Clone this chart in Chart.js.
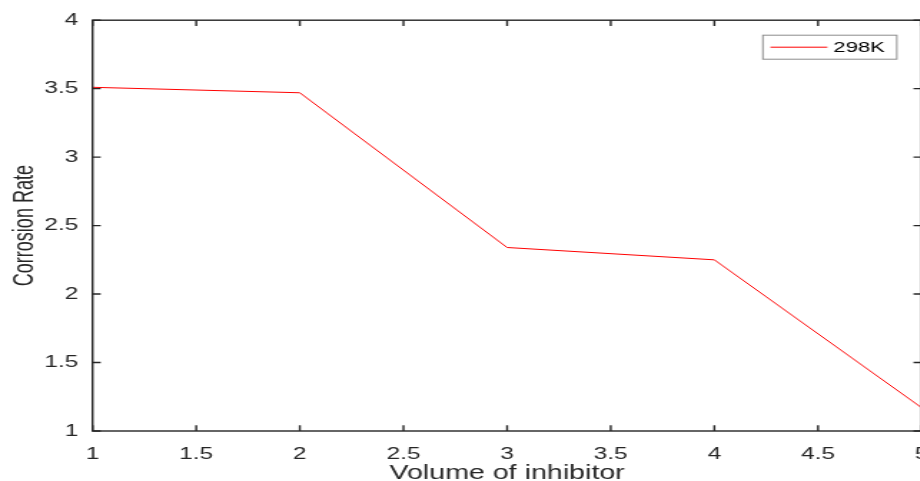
<!DOCTYPE html>
<html>
<head>
<meta charset="utf-8">
<script src="https://cdn.jsdelivr.net/npm/chart.js@4/dist/chart.umd.min.js"></script>
<style>
    html, body { margin: 0; padding: 0; overflow: hidden; background: #fff; }
    /* drawn narrow and widened with css, like the exported figure */
    #corrosionChart { width: 947px; height: 481px; }
</style>
</head>
<body>
<canvas id="corrosionChart" width="662" height="481" style="width:947px;height:481px"></canvas>
<script>
// volumen de inhibidor vs velocidad de corrosion
const volumes = [1, 2, 3, 4, 5];
const corrosion298K = [3.51, 3.47, 2.34, 2.25, 1.17];
const seriesLabel = '298K';
const xTickValues = [1, 1.5, 2, 2.5, 3, 3.5, 4, 4.5, 5];
const yTickValues = [1, 1.5, 2, 2.5, 3, 3.5, 4];
const xTitle = 'Volume of inhibitor';
const yTitle = 'Corrosion Rate';

const axisColor = '#262626';
const tickFont = { family: '"Liberation Sans", Arial, sans-serif', size: 17 };

// marco completo con marcas hacia dentro, leyenda en caja y titulo del eje y
const framePlugin = {
    id: 'frame',
    afterDraw(chart) {
        const ctx = chart.ctx;
        const { left, right, top, bottom } = chart.chartArea;
        const xs = chart.scales.x;
        const ys = chart.scales.y;
        const tickLen = 5.7;

        ctx.save();
        ctx.strokeStyle = axisColor;
        ctx.lineWidth = 1.4;
        ctx.strokeRect(left, top, right - left, bottom - top);

        ctx.beginPath();
        xTickValues.forEach(v => {
            const px = xs.getPixelForValue(v);
            ctx.moveTo(px, bottom);
            ctx.lineTo(px, bottom - tickLen);
            ctx.moveTo(px, top);
            ctx.lineTo(px, top + tickLen);
        });
        yTickValues.forEach(v => {
            const py = ys.getPixelForValue(v);
            ctx.moveTo(left, py);
            ctx.lineTo(left + tickLen, py);
            ctx.moveTo(right, py);
            ctx.lineTo(right - tickLen, py);
        });
        ctx.stroke();

        // leyenda
        const ds = chart.data.datasets[0];
        const boxL = right - 111;
        const boxR = right - 17.4;
        const boxT = top + 15;
        const boxH = 24;
        ctx.fillStyle = '#fff';
        ctx.fillRect(boxL, boxT, boxR - boxL, boxH);
        ctx.strokeStyle = '#8c8c8c';
        ctx.lineWidth = 1;
        ctx.strokeRect(boxL, boxT, boxR - boxL, boxH);

        ctx.strokeStyle = ds.borderColor;
        ctx.lineWidth = 1;
        ctx.beginPath();
        ctx.moveTo(boxL + 5.3, boxT + 12);
        ctx.lineTo(boxL + 45.1, boxT + 12);
        ctx.stroke();

        ctx.fillStyle = '#000';
        ctx.font = '15.4px "Liberation Sans", Arial, sans-serif';
        ctx.textAlign = 'left';
        ctx.textBaseline = 'middle';
        ctx.fillText(ds.label, boxL + 49.3, boxT + 13);

        // titulo del eje y, letra estrecha
        ctx.translate(23.1, (top + bottom) / 2);
        ctx.rotate(-Math.PI / 2);
        ctx.scale(0.86, 1);
        ctx.fillStyle = axisColor;
        ctx.font = '21px "Liberation Sans", Arial, sans-serif';
        ctx.textAlign = 'center';
        ctx.textBaseline = 'alphabetic';
        ctx.fillText(yTitle, 0, 0);
        ctx.restore();
    }
};

const ctx = document.getElementById('corrosionChart').getContext('2d');
new Chart(ctx, {
    type: 'line',
    data: {
        datasets: [{
            label: seriesLabel,
            data: volumes.map((v, i) => ({ x: v, y: corrosion298K[i] })),
            borderColor: '#ff0000',
            borderWidth: 1,
            pointRadius: 0,
            tension: 0,
            fill: false
        }]
    },
    options: {
        responsive: false,
        maintainAspectRatio: false,
        animation: false,
        devicePixelRatio: 1,
        layout: {
            padding: { top: 18.5, left: 0, right: 0, bottom: 0 }
        },
        plugins: {
            legend: { display: false },
            tooltip: { enabled: false }
        },
        scales: {
            x: {
                type: 'linear',
                min: 1,
                max: 5,
                afterBuildTicks: scale => { scale.ticks = xTickValues.map(v => ({ value: v })); },
                afterFit: scale => { scale.height = 50; },
                grid: { display: false, drawTicks: false },
                border: { display: false },
                ticks: {
                    font: tickFont,
                    color: axisColor,
                    padding: 13,
                    maxRotation: 0,
                    autoSkip: false,
                    callback: v => String(v)
                },
                title: {
                    display: true,
                    text: xTitle,
                    color: axisColor,
                    font: { family: '"Liberation Sans", Arial, sans-serif', size: 20 },
                    padding: { top: 0, bottom: -4 }
                }
            },
            y: {
                min: 1,
                max: 4,
                afterBuildTicks: scale => { scale.ticks = yTickValues.map(v => ({ value: v })); },
                afterFit: scale => { scale.width = 64.7; },
                grid: { display: false, drawTicks: false },
                border: { display: false },
                ticks: {
                    font: tickFont,
                    color: axisColor,
                    padding: 10,
                    autoSkip: false,
                    callback: v => String(v)
                }
            }
        }
    },
    plugins: [framePlugin]
});
</script>
</body>
</html>
